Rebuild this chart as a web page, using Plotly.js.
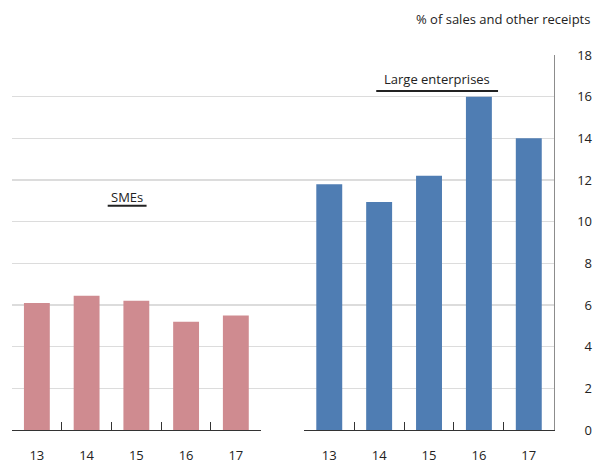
<!DOCTYPE html>
<html>
<head>
<meta charset="utf-8">
<script src="https://cdn.plot.ly/plotly-3.0.1.min.js"></script>
<style>html,body{margin:0;padding:0;background:#fff}#chart{width:595px;height:464px}</style>
</head>
<body>
<div id="chart"></div>
<script>
const years = ["13", "14", "15", "16", "17"];
const smeValues = [6.1, 6.45, 6.2, 5.2, 5.5];
const largeValues = [11.8, 10.95, 12.2, 16.0, 14.0];
const yTicks = [0, 2, 4, 6, 8, 10, 12, 14, 16, 18];

const FONT = "Open Sans, Noto Sans, sans-serif";
const TXT = "#222";

const traces = [
  {type: "scatter", x: [], y: [], xaxis: "x", yaxis: "y", hoverinfo: "skip"},
  {type: "scatter", x: [], y: [], xaxis: "x", yaxis: "y2", hoverinfo: "skip"},
  {type: "bar", x: years, y: smeValues, xaxis: "x2", yaxis: "y",
   marker: {color: "#cf8b90"}, hoverinfo: "skip"},
  {type: "bar", x: years, y: largeValues, xaxis: "x3", yaxis: "y",
   marker: {color: "#4f7db3"}, hoverinfo: "skip"}
];

const catAxis = (domain) => ({
  domain: domain, type: "category", range: [-0.5, 4.5],
  showline: true, linecolor: "#333", linewidth: 1.2,
  ticks: "inside", tickson: "boundaries", ticklen: 8, tickcolor: "#333", tickwidth: 1,
  showgrid: false, zeroline: false, fixedrange: true,
  tickfont: {family: FONT, size: 13, color: TXT}, ticklabelstandoff: 13,
  anchor: "y"
});

const layout = {
  width: 595, height: 464,
  margin: {l: 12, r: 3, t: 55, b: 34},
  paper_bgcolor: "#fff", plot_bgcolor: "rgba(0,0,0,0)",
  showlegend: false, bargap: 0.48,
  font: {family: FONT, size: 13, color: TXT},
  xaxis: {domain: [0, 0.934], visible: false, range: [0, 1], fixedrange: true, anchor: "y"},
  xaxis2: catAxis([0, 0.4288]),
  xaxis3: catAxis([0.504, 0.934]),
  yaxis: {
    range: [0, 18], tickvals: yTicks, showticklabels: false,
    showgrid: true, gridcolor: "#dcdcdc", gridwidth: 1.5,
    zeroline: false, showline: true, linecolor: "#8c8c8c", linewidth: 1.5,
    side: "right", anchor: "x", ticks: "", fixedrange: true
  },
  yaxis2: {
    overlaying: "y", side: "left", anchor: "free", position: 1,
    range: [0, 18], tickvals: yTicks, ticktext: yTicks.map(String),
    showgrid: false, zeroline: false, showline: false, ticks: "",
    tickfont: {family: FONT, size: 13, color: TXT}, fixedrange: true
  },
  annotations: [
    {text: "% of sales and other receipts", xref: "paper", yref: "paper",
     x: 1, y: 1.095, xanchor: "right", yanchor: "middle", showarrow: false,
     font: {family: FONT, size: 13, color: TXT}},
    {text: "SMEs", xref: "paper", yref: "y", x: 0.198, y: 11.2,
     xanchor: "center", yanchor: "middle", showarrow: false,
     font: {family: FONT, size: 13, color: TXT}},
    {text: "Large enterprises", xref: "paper", yref: "y", x: 0.733, y: 16.85,
     xanchor: "center", yanchor: "middle", showarrow: false,
     font: {family: FONT, size: 13, color: TXT}}
  ],
  shapes: [
    {type: "line", xref: "paper", yref: "y", x0: 0.165, x1: 0.232, y0: 10.77, y1: 10.77,
     line: {color: "#222", width: 2}},
    {type: "line", xref: "paper", yref: "y", x0: 0.628, x1: 0.838, y0: 16.27, y1: 16.27,
     line: {color: "#222", width: 2}}
  ]
};

Plotly.newPlot("chart", traces, layout, {displayModeBar: false, staticPlot: true});
</script>
</body>
</html>
